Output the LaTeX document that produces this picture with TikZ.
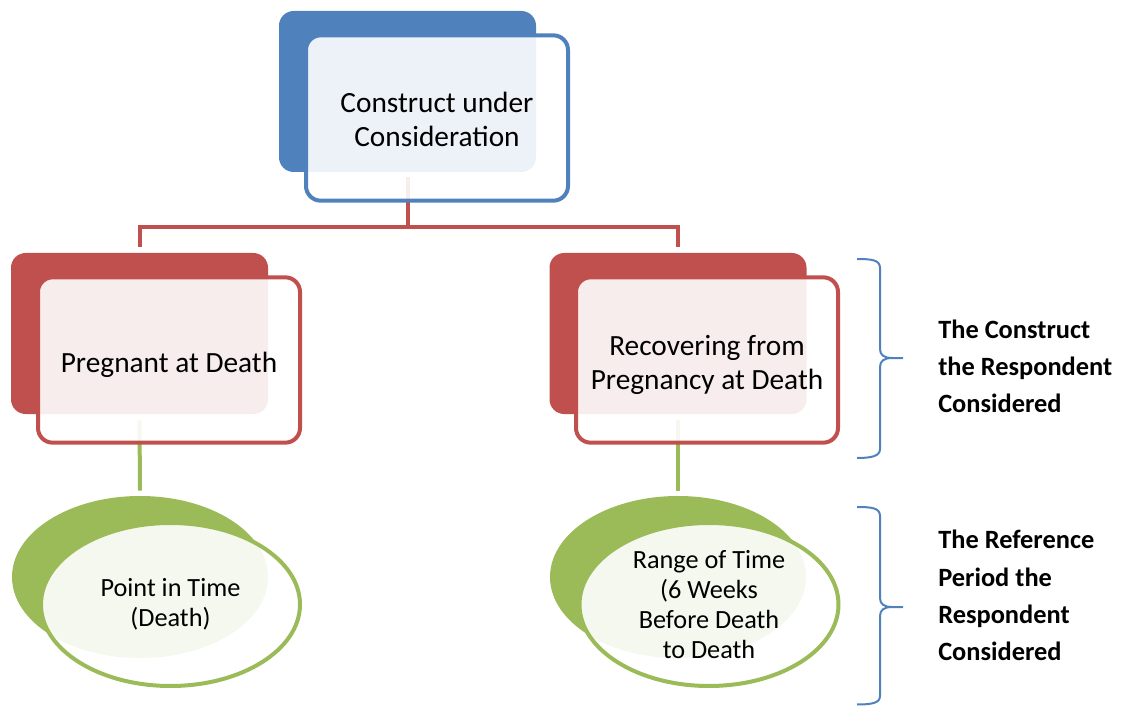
\documentclass[tikz,border=0pt]{standalone}
\usepackage{fontspec}
\setmainfont{Carlito}
\usetikzlibrary{shapes.geometric,calc}
\definecolor{cblue}{HTML}{4F81BD}
\definecolor{cred}{HTML}{C0504D}
\definecolor{cgreen}{HTML}{9BBB59}
\pgfdeclarelayer{connlayer}
\pgfdeclarelayer{backlayer}
\pgfsetlayers{connlayer,backlayer,main}
\newcommand\lowertext[2]{\raisebox{-#1}[\height][\depth]{\begin{tabular}{@{}c@{}}#2\end{tabular}}}
\begin{document}
\begin{tikzpicture}[x=0.75pt,y=-0.75pt,
  backbox/.style={rectangle, rounded corners=11pt, minimum width=192.75pt, minimum height=120.75pt, inner sep=0pt},
  frontbox/.style={rectangle, rounded corners=11pt, minimum width=196.5pt, minimum height=124pt, inner sep=0pt, line width=3pt, fill=white, fill opacity=0.9, text opacity=1, align=center, font=\fontsize{22}{25.5}\selectfont},
  backell/.style={ellipse, minimum width=192pt, minimum height=121.5pt, inner sep=0pt, fill=cgreen},
  frontell/.style={ellipse, minimum width=194.25pt, minimum height=122.25pt, inner sep=0pt, line width=3pt, draw=cgreen, fill=white, fill opacity=0.9, text opacity=1, align=center, font=\fontsize{19.7}{22.3}\selectfont},
  connline/.style={line width=3pt},
  bracestyle/.style={draw=cblue, line width=1.5pt},
  lbl/.style={anchor=west, align=left, font=\bfseries\fontsize{19.8}{28}\selectfont, inner sep=0pt}
]
\useasboundingbox (0,0) rectangle (1122,706);

% back shapes
\begin{pgfonlayer}{backlayer}
\node[backbox, fill=cblue] (topback) at (407.5,91.5) {};
\node[backbox, fill=cred] (lback) at (139.5,333.5) {};
\node[backbox, fill=cred] (rback) at (678,333.5) {};
\node[backell] (lellback) at (140,577) {};
\node[backell] (rellback) at (678,577) {};
\end{pgfonlayer}

% front shapes
\node[frontbox, draw=cblue] (top) at (437,118) {\lowertext{3.5pt}{Construct under\\Consideration}};
\node[frontbox, draw=cred] (left) at (169,360) {\lowertext{4pt}{Pregnant at Death}};
\node[frontbox, draw=cred] (right) at (707,360) {\lowertext{4pt}{Recovering from\\Pregnancy at Death}};
\node[frontell] (lell) at (170.5,604.5) {Point in Time\\(Death)};
\node[frontell] (rell) at (709,604.5) {Range of Time\\(6 Weeks\\Before Death\\to Death};

% connectors
\begin{pgfonlayer}{connlayer}
\draw[connline, cred] ($(topback.south)+(0,5)$) -- ($(topback.south)+(0,55)$) coordinate (hub);
\draw[connline, cred] ($(lback.north)+(0,-6)$) |- (hub) -| ($(rback.north)+(0,-6)$);
\draw[connline, cgreen] ($(lback.south)+(0,6)$) -- ($(lellback.north)+(0,-5)$);
\draw[connline, cgreen] ($(rback.south)+(0,6)$) -- ($(rellback.north)+(0,-5)$);
\end{pgfonlayer}

% braces
\draw[bracestyle] (857,259) .. controls (872,259) and (880,260) .. (880,268) -- (880,349)
  .. controls (880,355) and (884,358) .. (892,358) -- (903,358);
\draw[bracestyle] (892,358) .. controls (884,358) and (880,361) .. (880,367) -- (880,449)
  .. controls (880,456) and (872,458) .. (857,458);
\draw[bracestyle] (857,507) .. controls (872,507) and (880,508) .. (880,516) -- (880,598)
  .. controls (880,604) and (884,607) .. (892,607) -- (903,607);
\draw[bracestyle] (892,607) .. controls (884,607) and (880,610) .. (880,616) -- (880,696)
  .. controls (880,703) and (872,704.5) .. (857,704.5);

% labels
\node[lbl] (lab1) at (938,366.5) {The Construct\\the Respondent\\Considered};
\node[lbl] (lab2) at (938,595.5) {The Reference\\Period the\\Respondent\\Considered};
\end{tikzpicture}
\end{document}
